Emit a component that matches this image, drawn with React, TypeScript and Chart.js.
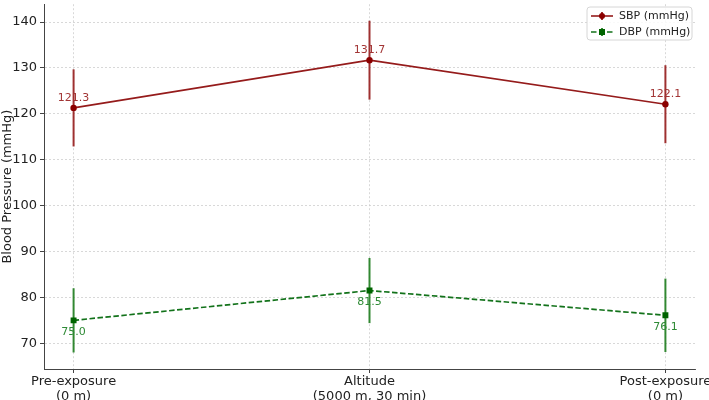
import React, { useEffect, useRef } from "react";
import { Chart, registerables } from "chart.js";
Chart.register(...registerables);

const categories: string[][] = [
  ["Pre-exposure", "(0 m)"],
  ["Altitude", "(5000 m, 30 min)"],
  ["Post-exposure", "(0 m)"],
];
const sbpMean = [121.3, 131.7, 122.1];
const sbpErr = [8.4, 8.6, 8.5];
const dbpMean = [75.0, 81.5, 76.1];
const dbpErr = [7.0, 7.1, 8.0];
const yTicks = [70, 80, 90, 100, 110, 120, 130, 140];
const xTicks = [0, 1, 2];

const SBP_COLOR = "#951b1b";
const DBP_COLOR = "#12721a";
const FONT = '"DejaVu Sans", sans-serif';

const errorBarPlugin = {
  id: "errorBars",
  beforeDatasetsDraw(chart: any) {
    const { ctx, scales } = chart;
    chart.data.datasets.forEach((ds: any) => {
      ctx.save();
      ctx.strokeStyle = ds.errColor;
      ctx.lineWidth = 2;
      ds.data.forEach((p: any, i: number) => {
        const x = scales.x.getPixelForValue(p.x);
        const y1 = scales.y.getPixelForValue(p.y - ds.err[i]);
        const y2 = scales.y.getPixelForValue(p.y + ds.err[i]);
        ctx.beginPath();
        ctx.moveTo(x, y1);
        ctx.lineTo(x, y2);
        ctx.stroke();
      });
      ctx.restore();
    });
  },
  afterDatasetsDraw(chart: any) {
    const { ctx, scales } = chart;
    chart.data.datasets.forEach((ds: any) => {
      ctx.save();
      ctx.fillStyle = ds.labelColor;
      ctx.font = `11px ${FONT}`;
      ctx.textAlign = "center";
      ctx.textBaseline = "middle";
      ds.data.forEach((p: any) => {
        const x = scales.x.getPixelForValue(p.x);
        const y = scales.y.getPixelForValue(p.y);
        ctx.fillText(p.y.toFixed(1), x, y + ds.labelOffset);
      });
      ctx.restore();
    });
  },
  afterDraw(chart: any) {
    const { ctx } = chart;
    ctx.save();
    const bx = 587, by = 7, bw = 105, bh = 33, r = 3;
    ctx.beginPath();
    ctx.moveTo(bx + r, by);
    ctx.lineTo(bx + bw - r, by);
    ctx.quadraticCurveTo(bx + bw, by, bx + bw, by + r);
    ctx.lineTo(bx + bw, by + bh - r);
    ctx.quadraticCurveTo(bx + bw, by + bh, bx + bw - r, by + bh);
    ctx.lineTo(bx + r, by + bh);
    ctx.quadraticCurveTo(bx, by + bh, bx, by + bh - r);
    ctx.lineTo(bx, by + r);
    ctx.quadraticCurveTo(bx, by, bx + r, by);
    ctx.closePath();
    ctx.fillStyle = "rgba(255,255,255,0.85)";
    ctx.fill();
    ctx.strokeStyle = "#d6d6d6";
    ctx.lineWidth = 1;
    ctx.stroke();

    chart.data.datasets.forEach((ds: any, i: number) => {
      const cy = 16 + i * 16;
      const x0 = 591, x1 = 613, cx = 602;
      ctx.strokeStyle = ds.borderColor;
      ctx.lineWidth = 1.6;
      ctx.setLineDash(ds.borderDash || []);
      ctx.beginPath();
      ctx.moveTo(x0, cy);
      ctx.lineTo(x1, cy);
      ctx.stroke();
      ctx.setLineDash([]);
      ctx.strokeStyle = ds.errColor;
      ctx.lineWidth = 2;
      ctx.beginPath();
      ctx.moveTo(cx, cy - 4);
      ctx.lineTo(cx, cy + 4);
      ctx.stroke();
      ctx.fillStyle = ds.pointBackgroundColor;
      if (ds.pointStyle === "rect") {
        ctx.fillRect(cx - 3, cy - 3, 6, 6);
      } else {
        ctx.beginPath();
        ctx.arc(cx, cy, 3, 0, Math.PI * 2);
        ctx.fill();
      }
      ctx.fillStyle = "#222";
      ctx.font = `11px ${FONT}`;
      ctx.textAlign = "left";
      ctx.textBaseline = "middle";
      ctx.fillText(ds.label, 619, cy + 0.5);
    });
    ctx.restore();
  },
};

const gridOpts: any = {
  color: "#cfcfcf",
  lineWidth: 0.8,
  tickColor: "#444",
  tickLength: 4,
  tickBorderDash: [1, 0],
  tickWidth: 1,
};

export default function App() {
  const ref = useRef<HTMLCanvasElement>(null);
  useEffect(() => {
    if (!ref.current) return;
    const chart = new Chart(ref.current, {
      type: "line",
      data: {
        datasets: [
          {
            label: "SBP (mmHg)",
            data: sbpMean.map((y, i) => ({ x: i, y })),
            borderColor: SBP_COLOR,
            backgroundColor: SBP_COLOR,
            pointBackgroundColor: "#8b0000",
            pointBorderColor: "#8b0000",
            borderWidth: 1.7,
            pointRadius: 3.2,
            pointBorderWidth: 0,
            pointStyle: "circle",
            tension: 0,
            err: sbpErr,
            errColor: "rgba(150,28,28,0.9)",
            labelColor: "#a23535",
            labelOffset: -10,
          } as any,
          {
            label: "DBP (mmHg)",
            data: dbpMean.map((y, i) => ({ x: i, y })),
            borderColor: DBP_COLOR,
            backgroundColor: DBP_COLOR,
            pointBackgroundColor: "#006400",
            pointBorderColor: "#006400",
            borderWidth: 1.7,
            borderDash: [5.5, 2.5],
            pointRadius: 4.2,
            pointBorderWidth: 0,
            pointStyle: "rect",
            tension: 0,
            err: dbpErr,
            errColor: "rgba(30,125,30,0.9)",
            labelColor: "#2e8a35",
            labelOffset: 12,
          } as any,
        ],
      },
      options: {
        animation: false,
        responsive: false,
        layout: { padding: { left: 0, top: 2, right: 14, bottom: 0 } },
        plugins: { legend: { display: false }, tooltip: { enabled: false } },
        scales: {
          x: {
            type: "linear",
            min: -0.1,
            max: 2.1,
            afterBuildTicks: (scale: any) => {
              scale.ticks = xTicks.map((v) => ({ value: v }));
            },
            afterFit: (scale: any) => {
              scale.height = 31;
              scale.paddingLeft = 0;
              scale.paddingRight = 0;
            },
            ticks: {
              callback: (v: any) => categories[Math.round(Number(v))] ?? "",
              color: "#222",
              font: { family: FONT, size: 13, lineHeight: 1.15 },
              padding: 1,
              maxRotation: 0,
              autoSkip: false,
            },
            grid: gridOpts,
            border: { color: "#444", width: 1, dash: [2, 2] } as any,
          },
          y: {
            type: "linear",
            min: 64.4,
            max: 143.9,
            afterBuildTicks: (scale: any) => {
              scale.ticks = yTicks.map((v) => ({ value: v }));
            },
            afterFit: (scale: any) => {
              scale.width = 44;
              scale.paddingTop = 0;
              scale.paddingBottom = 0;
            },
            ticks: {
              color: "#222",
              font: { family: FONT, size: 13 },
              padding: 3,
            },
            grid: gridOpts,
            border: { color: "#444", width: 1, dash: [2, 2] } as any,
            title: {
              display: true,
              text: "Blood Pressure (mmHg)",
              color: "#222",
              font: { family: FONT, size: 13 },
              padding: { top: 0, bottom: 0 },
            },
          },
        },
      },
      plugins: [errorBarPlugin],
    });
    return () => chart.destroy();
  }, []);
  return (
    <div style={{ position: "absolute", left: 0, top: 0, width: 709, height: 400, background: "#fff" }}>
      <canvas ref={ref} width={709} height={400} style={{ display: "block" }} />
    </div>
  );
}
